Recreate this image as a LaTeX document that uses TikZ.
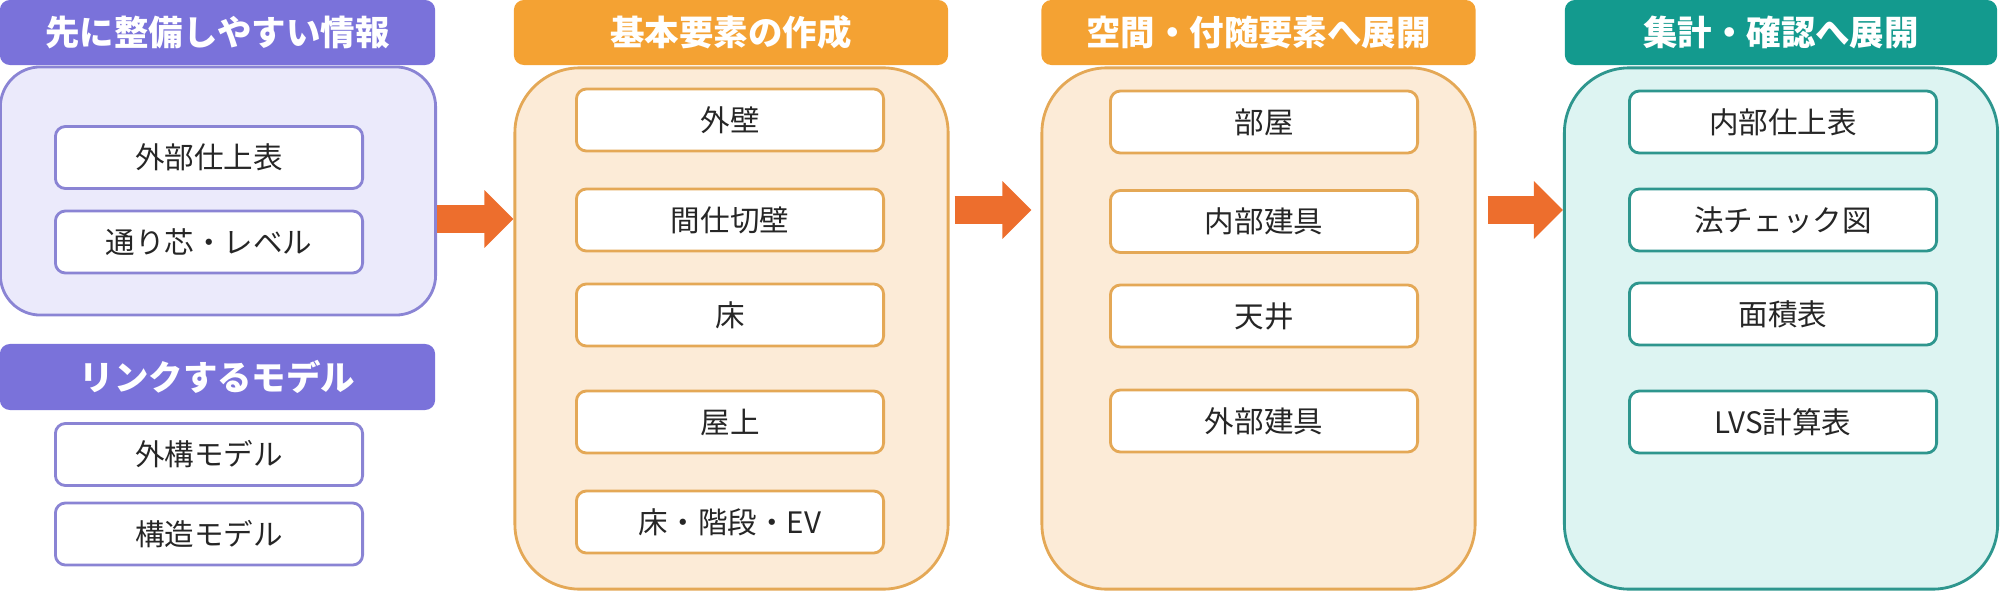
\documentclass[tikz,border=0pt]{standalone}
\usepackage{fontspec}
\setmainfont{Noto Sans CJK JP}
\usepackage{tikz}
\usetikzlibrary{arrows.meta}

\definecolor{purp}{RGB}{122,114,218}
\definecolor{purpF}{RGB}{235,234,251}
\definecolor{purpD}{RGB}{138,132,212}
\definecolor{orng}{RGB}{244,162,51}
\definecolor{orngF}{RGB}{252,235,215}
\definecolor{orngD}{RGB}{228,168,86}
\definecolor{teal}{RGB}{19,154,142}
\definecolor{tealF}{RGB}{221,244,242}
\definecolor{tealD}{RGB}{46,150,142}
\definecolor{arr}{RGB}{237,110,45}
\definecolor{txt}{RGB}{38,38,38}

\tikzset{
	head/.style={fill=#1, text=white, rounded corners=0.1cm, inner sep=0pt,
		minimum width=4.35cm, minimum height=0.65cm,
		font=\fontsize{9.8}{11}\selectfont\bfseries},
	panel/.style 2 args={fill=#1, draw=#2, line width=0.8pt, rounded corners=0.65cm,
		minimum width=4.33cm, inner sep=0pt},
	item/.style={draw=#1, fill=white, line width=0.8pt, rounded corners=0.1cm,
		minimum width=3.07cm, minimum height=0.62cm, inner sep=0pt,
		text=txt, font=\fontsize{8.4}{10}\selectfont},
	bigarrow/.style={draw=arr, line width=0.28cm,
		-{Triangle[length=0.29cm,width=0.56cm]}}
}

\begin{document}
\begin{tikzpicture}[x=0.01cm,y=-0.01cm]
	\useasboundingbox (0,0) rectangle (2000,591);
	% panels
	\node[panel={purpF}{purpD}, rounded corners=0.4cm, minimum width=4.35cm, minimum height=2.48cm] (p1) at (218,191) {};
	\node[panel={orngF}{orngD}, minimum height=5.21cm] (p2) at (731.5,328.5) {};
	\node[panel={orngF}{orngD}, minimum height=5.21cm] (p3) at (1258.5,328.5) {};
	\node[panel={tealF}{tealD}, minimum height=5.21cm] (p4) at (1781,328.5) {};
	% headers
	\node[head=purp] (h1) at (217.5,32.5) {先に整備しやすい情報};
	\node[head=purp, minimum height=0.66cm] (h2) at (217.5,377) {リンクするモデル};
	\node[head=orng, minimum width=4.34cm] (h3) at (731,32.5) {基本要素の作成};
	\node[head=orng, minimum width=4.34cm] (h4) at (1258.5,32.5) {空間・付随要素へ展開};
	\node[head=teal, minimum width=4.32cm] (h5) at (1781,32.5) {集計・確認へ展開};
	% items
	\foreach \y/\t [count=\i] in {157.5/外部仕上表, 242/通り芯・レベル}{
		\node[item=purpD] (a\i) at (209,\y) {\t};
	}
	\foreach \y/\t [count=\i] in {454.5/外構モデル, 534/構造モデル}{
		\node[item=purpD] (m\i) at (209,\y) {\t};
	}
	\foreach \y/\t [count=\i] in {120/外壁, 220/間仕切壁, 315/床, 422/屋上, 522/床・階段・EV}{
		\node[item=orngD] (b\i) at (730,\y) {\t};
	}
	\foreach \y/\t [count=\i] in {122/部屋, 221.5/内部建具, 316/天井, 421/外部建具}{
		\node[item=orngD] (c\i) at (1264,\y) {\t};
	}
	\foreach \y/\t [count=\i] in {122/内部仕上表, 220/法チェック図, 314/面積表, 422/LVS計算表}{
		\node[item=tealD] (d\i) at (1783,\y) {\t};
	}
	% arrows
	\draw[bigarrow] (p1.east |- 0,219) -- (p2.west |- 0,219);
	\draw[bigarrow, shorten <=0.05cm, shorten >=0.09cm] (p2.east |- 0,210) -- (p3.west |- 0,210);
	\draw[bigarrow, shorten <=0.11cm] (p3.east |- 0,210) -- (p4.west |- 0,210);
\end{tikzpicture}
\end{document}
